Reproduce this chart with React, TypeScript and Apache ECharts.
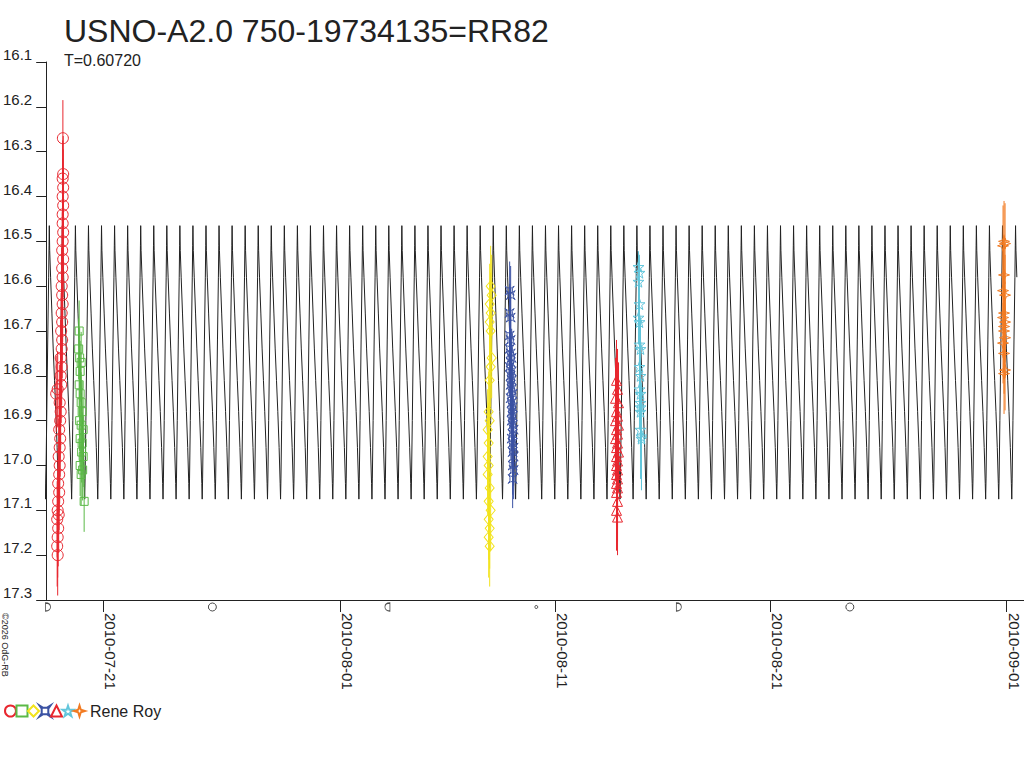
import React, { useEffect, useRef } from 'react';
import * as echarts from 'echarts';

const FONT = '"Liberation Sans", Arial, sans-serif';
const TITLE = 'USNO-A2.0 750-19734135=RR82';
const SUBTITLE = 'T=0.60720';
const COPYRIGHT = '©2026 OdG-RB';
const OBSERVER = 'Rene Roy';

// time axis: days after 2010-07-18 00:00 UT
const BASE_DATE = Date.UTC(2010, 6, 18);
const X_MIN = 0.34;
const X_MAX = 45.81;
const MODEL_END = 45.49;
const PERIOD = 0.6072;
const EPOCH_MAX = 5.342;

const dateTicks = ['2010-07-21', '2010-08-01', '2010-08-11', '2010-08-21', '2010-09-01'];
const MAG_MIN = 16.1;
const MAG_MAX = 17.3;
const MAG_STEP = 0.1;

// one cycle of the model light curve: [phase, mag]
const lightCurvePhase = [
  [0, 16.465], [0.03, 16.52], [0.1, 16.58], [0.2, 16.66], [0.3, 16.74],
  [0.4, 16.81], [0.5, 16.88], [0.6, 16.96], [0.68, 17.04], [0.71, 17.075],
  [0.74, 17.03], [0.8, 16.9], [0.88, 16.72], [0.95, 16.58], [0.98, 16.51],
];

// moon phases: [kind, day]
const moonPhases: [string, number][] = [
  ['firstQuarter', 0.424], ['full', 8.068], ['lastQuarter', 16.208],
  ['new', 23.131], ['firstQuarter', 29.76], ['full', 37.712],
];

// observations: [day, mag, error]
const redCircles = [
  [0.874, 17.2, 0.09], [0.851, 17.18, 0.09], [0.874, 17.16, 0.09], [0.897, 17.14, 0.085], [0.851, 17.12, 0.085],
  [0.921, 17.11, 0.085], [0.874, 17.1, 0.085], [0.897, 17.08, 0.085], [0.944, 17.06, 0.085], [0.897, 17.04, 0.085],
  [0.944, 17.02, 0.085], [0.967, 17.0, 0.085], [0.921, 16.98, 0.085], [0.967, 16.96, 0.085], [0.99, 16.94, 0.085],
  [0.944, 16.92, 0.085], [0.99, 16.9, 0.085], [1.013, 16.88, 0.085], [0.967, 16.86, 0.085], [0.804, 16.84, 0.085],
  [0.874, 16.83, 0.085], [1.037, 16.82, 0.085], [1.013, 16.8, 0.085], [1.06, 16.78, 0.085], [1.013, 16.76, 0.085],
  [1.06, 16.74, 0.085], [1.083, 16.72, 0.085], [1.037, 16.7, 0.085], [1.083, 16.68, 0.085], [1.06, 16.66, 0.085],
  [1.106, 16.64, 0.085], [1.083, 16.62, 0.085], [1.06, 16.6, 0.085], [1.106, 16.58, 0.085], [1.083, 16.56, 0.085],
  [1.13, 16.54, 0.085], [1.083, 16.52, 0.085], [1.106, 16.5, 0.085], [1.13, 16.48, 0.085], [1.106, 16.46, 0.085],
  [1.106, 16.44, 0.085], [1.13, 16.42, 0.085], [1.106, 16.4, 0.085], [1.13, 16.38, 0.085], [1.106, 16.36, 0.085],
  [1.13, 16.35, 0.085], [1.116, 16.27, 0.085],
];
const greenSquares = [
  [1.873, 16.7, 0.068], [1.85, 16.74, 0.068], [1.896, 16.76, 0.068], [1.966, 16.77, 0.068], [1.919, 16.79, 0.068],
  [1.873, 16.82, 0.068], [1.919, 16.84, 0.068], [1.966, 16.86, 0.068], [2.012, 16.88, 0.068], [1.896, 16.9, 0.068],
  [1.966, 16.91, 0.068], [2.059, 16.92, 0.068], [1.919, 16.94, 0.068], [2.012, 16.95, 0.068], [1.989, 16.97, 0.068],
  [2.059, 16.98, 0.068], [1.919, 17.0, 0.068], [2.035, 17.01, 0.068], [1.966, 17.02, 0.068], [2.105, 17.08, 0.068],
];
const yellowDiamonds = [
  [21.009, 16.6, 0.09], [21.056, 16.62, 0.09], [20.963, 16.64, 0.09], [21.009, 16.66, 0.09], [20.963, 16.68, 0.09],
  [21.009, 16.7, 0.09], [21.056, 16.76, 0.09], [21.009, 16.78, 0.09], [20.963, 16.81, 0.09], [20.916, 16.88, 0.09],
  [20.963, 16.9, 0.09], [20.87, 16.92, 0.09], [20.916, 16.95, 0.09], [20.87, 16.98, 0.09], [20.916, 17.0, 0.09],
  [20.87, 17.02, 0.09], [20.963, 17.05, 0.09], [20.916, 17.08, 0.09], [21.009, 17.1, 0.09], [20.916, 17.12, 0.09],
  [20.963, 17.14, 0.09], [20.916, 17.16, 0.09], [20.963, 17.18, 0.09],
];
const blueCrosses = [
  [21.892, 16.61, 0.065], [21.938, 16.62, 0.065], [21.892, 16.66, 0.065], [21.938, 16.67, 0.065], [21.892, 16.71, 0.065],
  [21.938, 16.72, 0.065], [21.892, 16.74, 0.065], [21.938, 16.75, 0.065], [21.985, 16.76, 0.065], [21.938, 16.77, 0.065],
  [21.892, 16.78, 0.065], [21.985, 16.79, 0.065], [21.938, 16.8, 0.065], [21.985, 16.81, 0.065], [21.938, 16.82, 0.065],
  [21.985, 16.83, 0.065], [22.031, 16.84, 0.065], [21.938, 16.85, 0.065], [21.985, 16.86, 0.065], [22.031, 16.87, 0.065],
  [21.985, 16.88, 0.065], [22.031, 16.89, 0.065], [21.985, 16.9, 0.065], [22.031, 16.91, 0.065], [22.077, 16.92, 0.065],
  [22.031, 16.93, 0.065], [21.985, 16.94, 0.065], [22.031, 16.95, 0.065], [22.077, 16.96, 0.065], [22.031, 16.97, 0.065],
  [22.077, 16.98, 0.065], [22.031, 17.0, 0.065], [22.077, 17.01, 0.065], [22.031, 17.03, 0.065],
];
const redTriangles = [
  [26.861, 16.81, 0.09], [26.908, 16.83, 0.09], [26.815, 16.85, 0.09], [26.954, 16.86, 0.09], [26.861, 16.88, 0.09],
  [26.908, 16.89, 0.09], [26.815, 16.9, 0.09], [26.954, 16.91, 0.09], [26.861, 16.92, 0.09], [26.908, 16.93, 0.09],
  [26.815, 16.94, 0.09], [26.908, 16.95, 0.09], [26.861, 16.96, 0.09], [26.954, 16.97, 0.09], [26.861, 16.98, 0.09],
  [26.908, 16.99, 0.09], [26.861, 17.0, 0.09], [26.908, 17.01, 0.09], [26.861, 17.02, 0.09], [26.908, 17.03, 0.09],
  [26.861, 17.04, 0.09], [26.908, 17.05, 0.09], [26.861, 17.06, 0.09], [26.908, 17.08, 0.09], [26.861, 17.1, 0.09],
  [26.908, 17.115, 0.085],
];
const cyanStars = [
  [27.883, 16.557, 0.035], [27.929, 16.57, 0.04], [27.883, 16.59, 0.05], [27.929, 16.64, 0.05], [27.883, 16.67, 0.06],
  [27.929, 16.68, 0.06], [27.929, 16.73, 0.07], [27.976, 16.74, 0.07], [27.929, 16.78, 0.08], [27.976, 16.8, 0.08],
  [27.929, 16.83, 0.09], [27.976, 16.84, 0.09], [27.976, 16.86, 0.1], [27.976, 16.87, 0.1], [27.976, 16.88, 0.1],
  [27.976, 16.92, 0.11], [28.022, 16.935, 0.12], [28.022, 16.94, 0.115],
];
const orangeSparks = [
  [44.882, 16.5, 0.09], [44.836, 16.51, 0.09], [44.929, 16.505, 0.09], [44.882, 16.575, 0.09], [44.836, 16.61, 0.09],
  [44.929, 16.62, 0.09], [44.882, 16.66, 0.09], [44.836, 16.67, 0.09], [44.929, 16.68, 0.09], [44.882, 16.69, 0.09],
  [44.882, 16.7, 0.09], [44.929, 16.715, 0.09], [44.836, 16.727, 0.09], [44.882, 16.75, 0.09], [44.929, 16.787, 0.09],
  [44.882, 16.795, 0.09],
];

const SYM_CROSS = 'path://M0,0 L3,2 L7,2 L10,0 L8,3 L8,7 L10,10 L7,8 L3,8 L0,10 L2,7 L2,3 Z';
const SYM_STAR = 'path://M5,0 L6.2,3.6 L10,3.6 L7,5.9 L8.1,9.5 L5,7.3 L1.9,9.5 L3,5.9 L0,3.6 L3.8,3.6 Z';
const SYM_SPARK = 'path://M5,0 L6.2,3.8 L10,5 L6.2,6.2 L5,10 L3.8,6.2 L0,5 L3.8,3.8 Z';
const SYM_FQ = 'path://M0,0 L0,10 C7,10 7,0 0,0 Z';
const SYM_LQ = 'path://M10,0 L10,10 C3,10 3,0 10,0 Z';

const observationSets = [
  { name: OBSERVER + ' 1', data: redCircles, symbol: 'circle', size: 11, color: '#e8272f' },
  { name: OBSERVER + ' 2', data: greenSquares, symbol: 'rect', size: 8, color: '#5bb947' },
  { name: OBSERVER + ' 3', data: yellowDiamonds, symbol: 'diamond', size: [9, 11], color: '#f2e31c' },
  { name: OBSERVER + ' 4', data: blueCrosses, symbol: SYM_CROSS, size: 9, color: '#3b52a3' },
  { name: OBSERVER + ' 5', data: redTriangles, symbol: 'triangle', size: 10, color: '#e8272f' },
  { name: OBSERVER + ' 6', data: cyanStars, symbol: SYM_STAR, size: 11, color: '#62c6dc' },
  { name: OBSERVER + ' 7', data: orangeSparks, symbol: SYM_SPARK, size: 11, color: '#f27b22' },
];

const moonSymbol: Record<string, string> = { firstQuarter: SYM_FQ, lastQuarter: SYM_LQ, full: 'circle', new: 'circle' };
const moonSize: Record<string, number | number[]> = { firstQuarter: [5, 8], lastQuarter: [5, 8], full: 8, new: 3 };

function dayOf(dateStr: string) {
  return (Date.parse(dateStr + 'T00:00:00Z') - BASE_DATE) / 86400000;
}

function buildModel() {
  const pts: number[][] = [];
  const kStart = Math.floor((X_MIN - EPOCH_MAX) / PERIOD) - 1;
  const kEnd = Math.ceil((MODEL_END - EPOCH_MAX) / PERIOD) + 1;
  for (let k = kStart; k <= kEnd; k++) {
    for (const [ph, mag] of lightCurvePhase) {
      const t = EPOCH_MAX + (k + ph) * PERIOD;
      if (t <= MODEL_END) pts.push([t, mag]);
    }
  }
  return pts;
}

export default function App() {
  const ref = useRef<HTMLDivElement>(null);
  useEffect(() => {
    if (!ref.current) return;
    const chart = echarts.init(ref.current, null, { renderer: 'svg' });
    const tickPos = dateTicks.map(dayOf);
    const tickLabel = (v: number) => {
      const i = tickPos.findIndex((p) => Math.abs(p - v) < 1e-6);
      return i >= 0 ? dateTicks[i] : '';
    };
    const series: any[] = [
      {
        type: 'line', name: 'model', data: buildModel(), showSymbol: false, symbol: 'none',
        lineStyle: { color: '#222', width: 1 }, z: 1, silent: true,
      },
    ];
    observationSets.forEach((s) => {
      series.push({
        type: 'custom', name: s.name + ' err', data: s.data, z: 2, silent: true,
        renderItem: (_p: any, api: any) => {
          const x = api.value(0), y = api.value(1), e = api.value(2);
          const a = api.coord([x, y - e]);
          const b = api.coord([x, y + e]);
          return { type: 'line', shape: { x1: a[0], y1: a[1], x2: b[0], y2: b[1] }, style: { stroke: s.color, lineWidth: 1 } };
        },
      });
    });
    observationSets.forEach((s) => {
      series.push({
        type: 'scatter', name: s.name, data: s.data.map((d) => [d[0], d[1]]), symbol: s.symbol, symbolSize: s.size,
        itemStyle: { color: 'rgba(0,0,0,0)', borderColor: s.color, borderWidth: 1, opacity: 1 }, z: 3,
      });
    });
    series.push({
      type: 'scatter', name: 'moon', clip: false, silent: true, z: 5,
      data: moonPhases.map(([kind, t]) => ({ value: [t, MAG_MAX], symbol: moonSymbol[kind], symbolSize: moonSize[kind] })),
      symbolOffset: [0, 7],
      itemStyle: { color: 'rgba(0,0,0,0)', borderColor: '#222', borderWidth: 1 },
    });

    const option: any = {
      animation: false,
      backgroundColor: '#fff',
      title: {
        text: TITLE, subtext: SUBTITLE, left: 64, top: 15, itemGap: 5, padding: 0,
        textStyle: { fontFamily: FONT, fontSize: 32, fontWeight: 'normal', color: '#222' },
        subtextStyle: { fontFamily: FONT, fontSize: 16, color: '#222' },
      },
      grid: { left: 45, right: 0, top: 62, bottom: 168, containLabel: false },
      legend: {
        data: observationSets.map((s) => s.name), left: 4, top: 703, padding: 0,
        itemWidth: 11, itemHeight: 11, itemGap: -1.5,
        formatter: (n: string) => (n === observationSets[observationSets.length - 1].name ? OBSERVER : ''),
        textStyle: { fontFamily: FONT, fontSize: 16, color: '#222' },
      },
      xAxis: {
        type: 'value', min: X_MIN, max: X_MAX,
        axisLine: { show: true, lineStyle: { color: '#222', width: 1 } },
        axisTick: { show: true, customValues: tickPos, length: 12, lineStyle: { color: '#222' } },
        axisLabel: {
          customValues: tickPos, rotate: -90, margin: 13, align: 'left', verticalAlign: 'bottom',
          formatter: tickLabel, fontFamily: FONT, fontSize: 15, color: '#222',
        },
        splitLine: { show: false },
      },
      yAxis: {
        type: 'value', inverse: true, min: MAG_MIN, max: MAG_MAX, interval: MAG_STEP,
        axisLine: { show: true, lineStyle: { color: '#222', width: 1 } },
        axisTick: { show: true, length: 10, lineStyle: { color: '#222' } },
        axisLabel: {
          formatter: (v: number) => v.toFixed(1), fontFamily: FONT, fontSize: 15, color: '#222',
          margin: 14, verticalAlign: 'bottom',
        },
        splitLine: { show: false },
      },
      graphic: [
        {
          type: 'text', x: 0, y: 613, rotation: -Math.PI / 2,
          style: { text: COPYRIGHT, fontFamily: FONT, fontSize: 9, fill: '#222', align: 'left', verticalAlign: 'bottom' },
        },
      ],
      series,
    };
    chart.setOption(option);
    return () => chart.dispose();
  }, []);
  return (
    <div
      ref={ref}
      style={{ position: 'fixed', left: 0, top: 0, width: 1024, height: 768, background: '#fff' }}
    />
  );
}
